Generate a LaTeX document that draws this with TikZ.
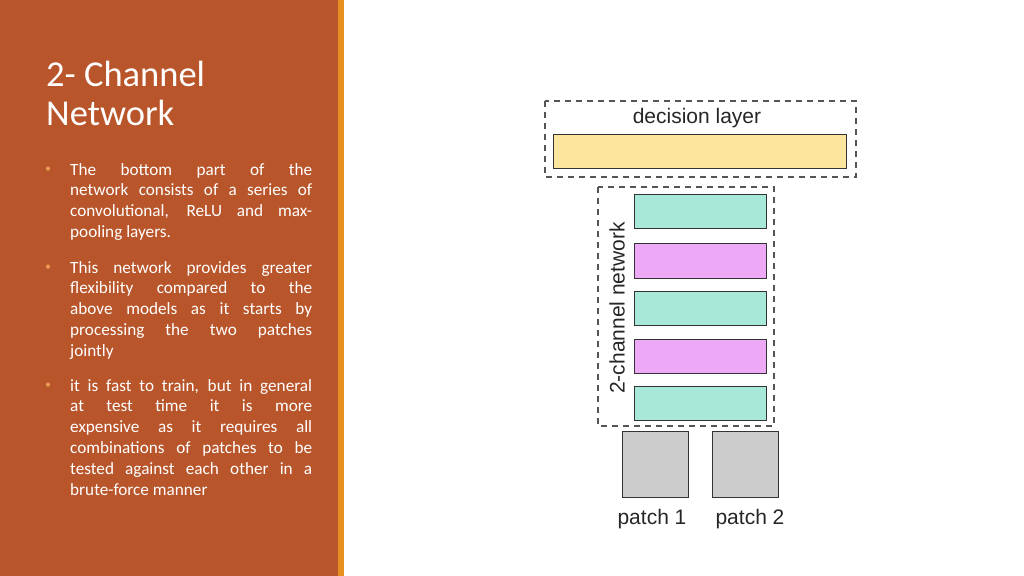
\documentclass[tikz,border=0pt]{standalone}
\usepackage{fontspec}
\setmainfont{Carlito}[Contextuals=NoAlternate]
\newfontfamily\diagfont{Liberation Sans}
\usepackage{xcolor}
\usetikzlibrary{positioning}
\definecolor{panelColor}{HTML}{B9552B}
\definecolor{stripColor}{HTML}{E8901F}
\definecolor{bulletColor}{HTML}{E89A50}
\definecolor{decisionColor}{HTML}{FCE59C}
\definecolor{convColor}{HTML}{A8E8D8}
\definecolor{poolColor}{HTML}{EDA9F5}
\definecolor{patchColor}{HTML}{CCCCCC}
\definecolor{dashColor}{HTML}{555555}
\def\textA{The bottom part of the\linebreak network consists of a series of\linebreak convolutional, ReLU and max-\linebreak pooling layers.}
\def\textB{This network provides greater\linebreak flexibility compared to the\linebreak above models as it starts by\linebreak processing the two patches\linebreak jointly}
\def\textC{it is fast to train, but in general\linebreak at test time it is more\linebreak expensive as it requires all\linebreak combinations of patches to be\linebreak tested against each other in a\linebreak brute-force manner}
\tikzset{
  bulletText/.style={anchor=north west, text width=242bp, align=justify, inner sep=0pt, text=white,
    font=\fontsize{17.2bp}{20.8bp}\selectfont,
    execute at begin node={\hyphenpenalty=10000\relax\exhyphenpenalty=10000\relax}},
  bulletDot/.style={anchor=north west, inner sep=0pt, text=bulletColor, font=\fontsize{12bp}{20.8bp}\selectfont},
  layerBox/.style={draw=black!80, line width=0.9bp},
  groupBox/.style={draw=dashColor, dashed, dash pattern=on 6bp off 5bp, line width=1.2bp},
  diagLabel/.style={font=\diagfont\fontsize{21bp}{24bp}\selectfont, text=black!85, inner sep=0pt},
  titleText/.style={anchor=west, inner sep=0pt, text=white, font=\fontsize{36.5bp}{42bp}\selectfont},
}
\begin{document}
\begin{tikzpicture}[x=1bp,y=-1bp]
\useasboundingbox (0, 0) rectangle (1024, 576);

% left panel
\begin{scope}
\fill[panelColor] (0, 0) rectangle (338, 576);
\fill[stripColor] (338, 0) rectangle (344, 576);
\node[titleText] (titleA) at (46, 74) {2- Channel};
\node[titleText] (titleB) at (46, 113) {Network};
\end{scope}

% bullet layer
\begin{scope}
\node[bulletText] (itemA) at (70, 163) {\textA};
\node[bulletText] (itemB) at (70, 261) {\textB};
\node[bulletText] (itemC) at (70, 379) {\textC};
\node[bulletDot] (dotA) at (45, 167) {\textbullet};
\node[bulletDot] (dotB) at (45, 265) {\textbullet};
\node[bulletDot] (dotC) at (45, 383) {\textbullet};
\end{scope}

% decision layer
\begin{scope}
\draw[groupBox] (545, 101) rectangle (856, 177);
\node[diagLabel] (decisionLabel) at (697, 118) {decision layer};
\filldraw[layerBox, fill=decisionColor] (553, 134) rectangle (846, 168);
\end{scope}

% network layer
\begin{scope}
\draw[groupBox] (598, 187) rectangle (774, 426);
\node[diagLabel, rotate=90] (netLabel) at (617, 308) {2-channel network};
\filldraw[layerBox, fill=convColor] (634, 194) rectangle (766, 228);
\filldraw[layerBox, fill=poolColor] (634, 243) rectangle (766, 278);
\filldraw[layerBox, fill=convColor] (634, 291) rectangle (766, 325);
\filldraw[layerBox, fill=poolColor] (634, 339) rectangle (766, 373);
\filldraw[layerBox, fill=convColor] (634, 386) rectangle (766, 420);
\end{scope}

% patches
\begin{scope}
\filldraw[layerBox, fill=patchColor] (622, 431) rectangle (688, 497);
\filldraw[layerBox, fill=patchColor] (712, 431) rectangle (778, 497);
\node[diagLabel] (patchA) at (652, 519) {patch 1};
\node[diagLabel] (patchB) at (750, 519) {patch 2};
\end{scope}
\end{tikzpicture}
\end{document}
